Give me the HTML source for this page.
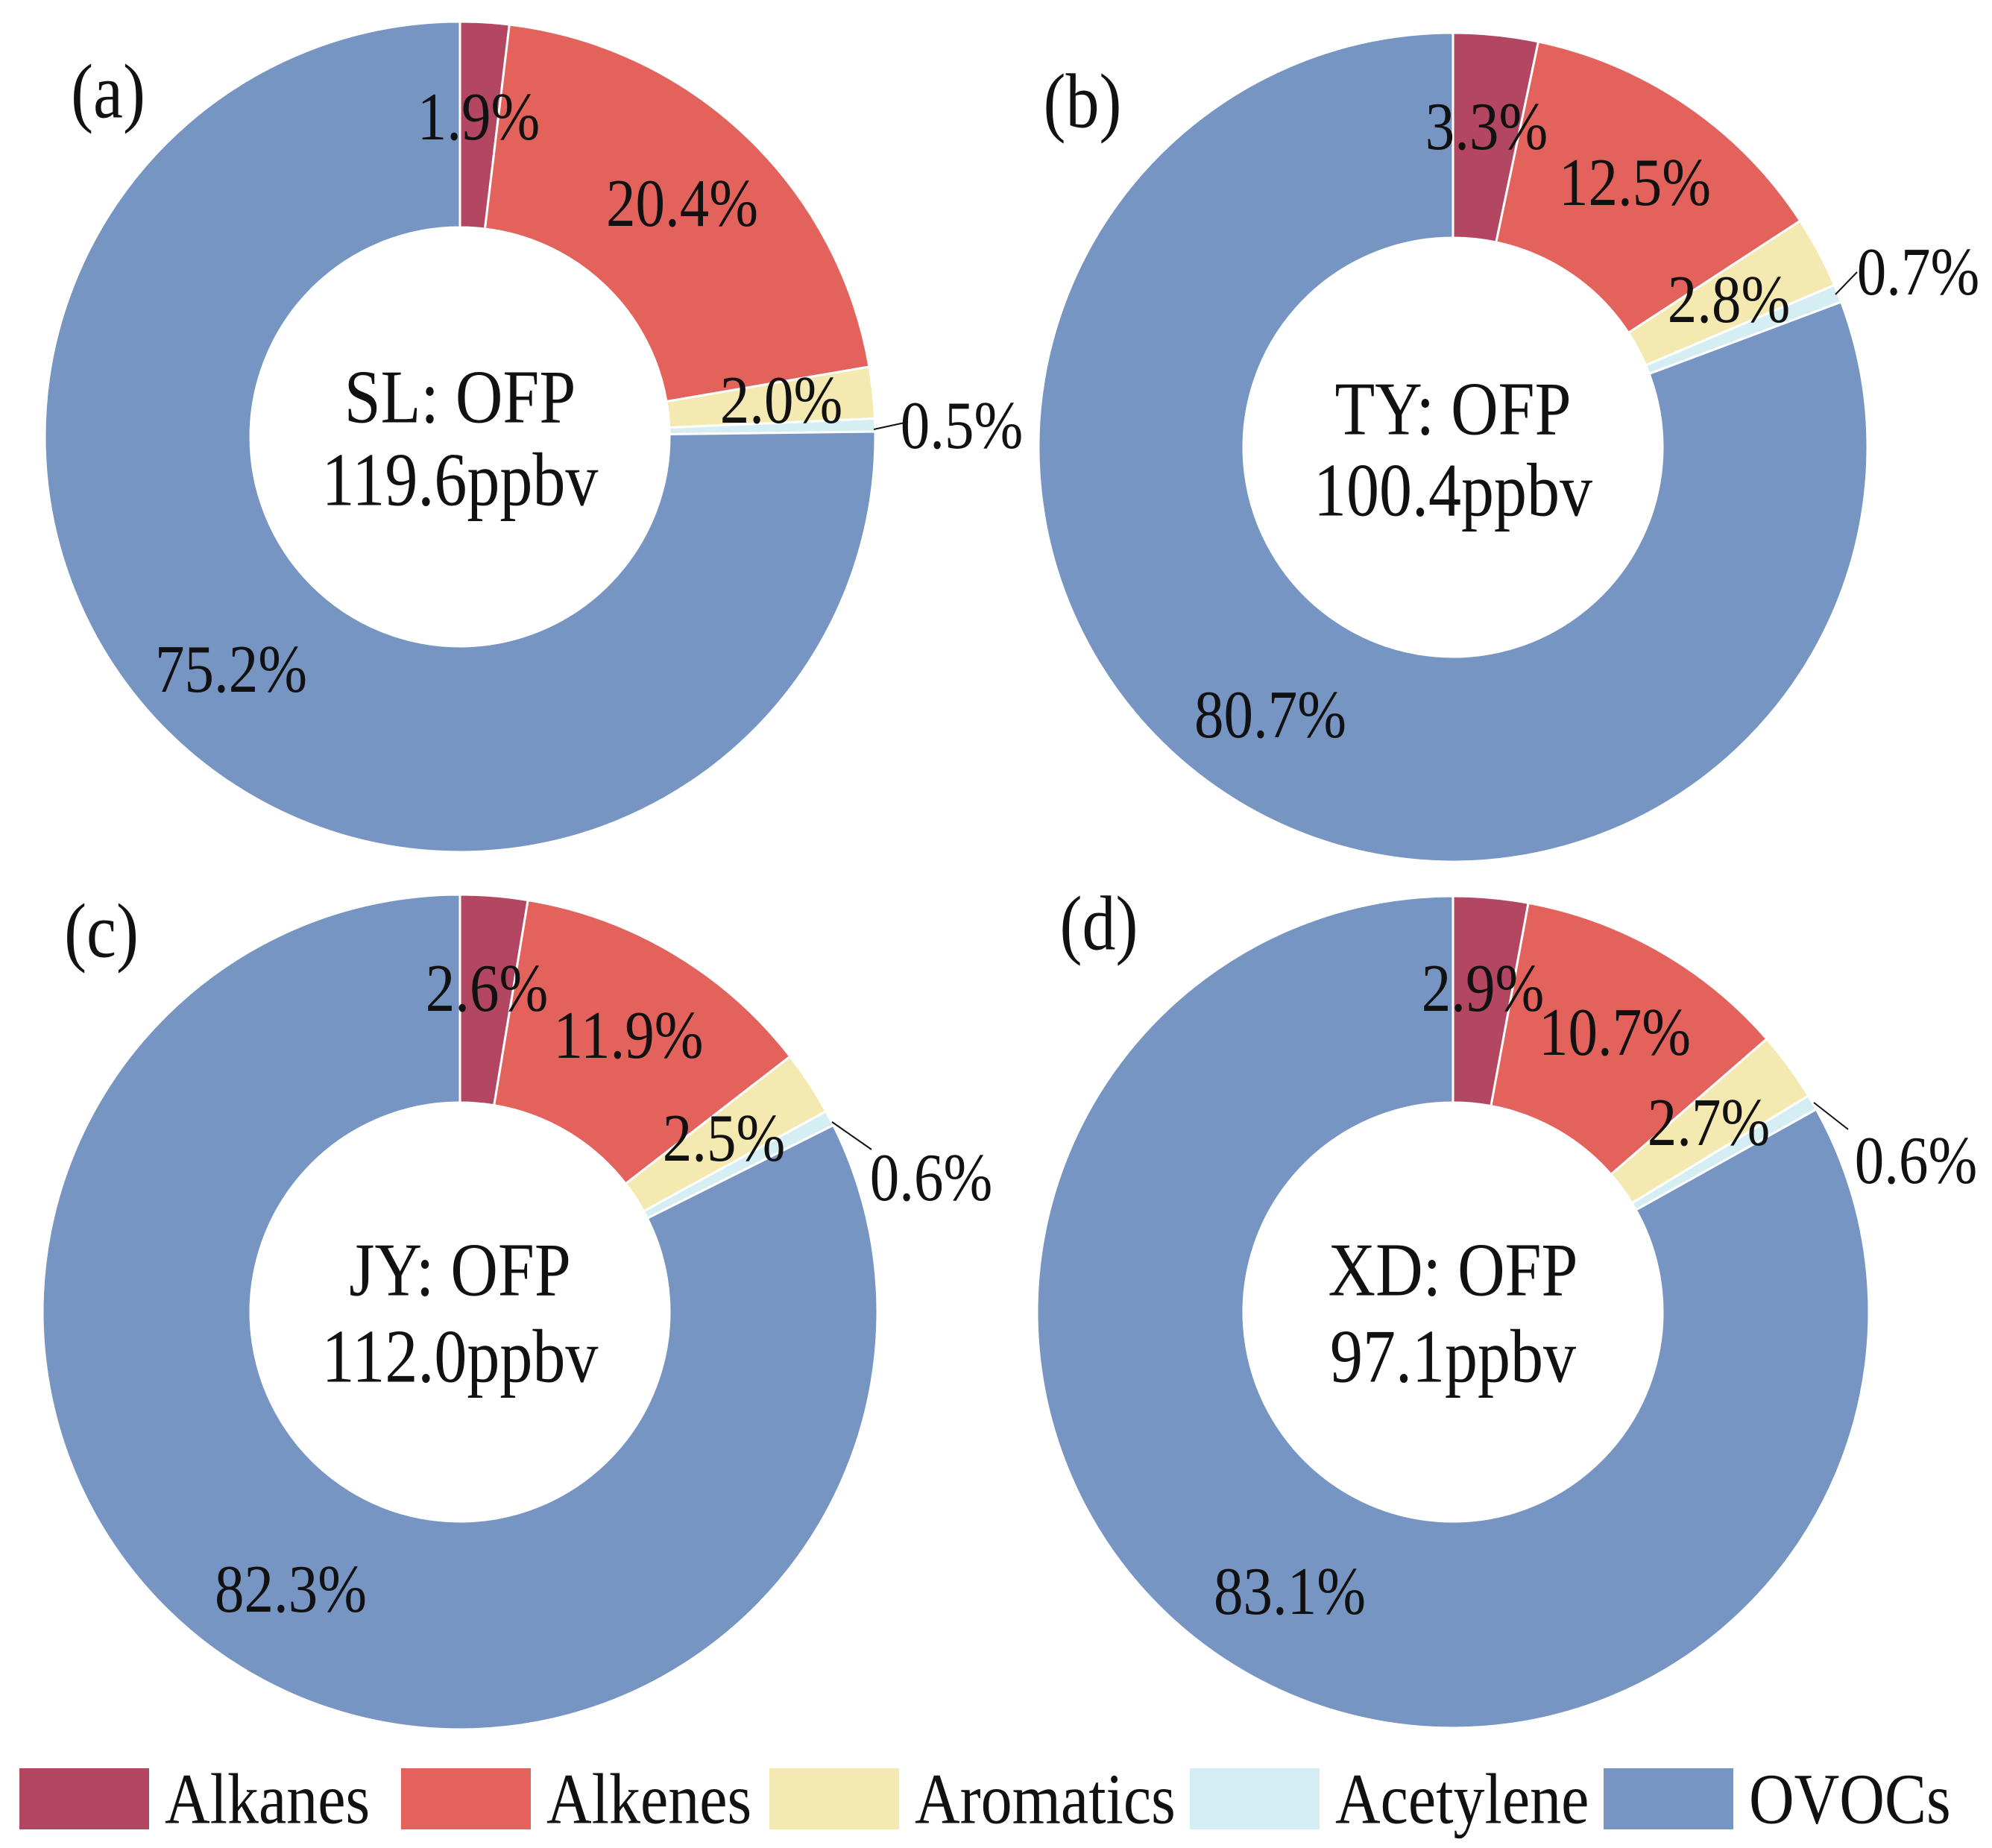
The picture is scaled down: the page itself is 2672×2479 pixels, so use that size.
<!DOCTYPE html>
<html><head><meta charset="utf-8"><style>
html,body{margin:0;padding:0;background:#fff;}
svg{display:block;font-family:"Liberation Serif",serif;}
</style></head><body>
<svg id="chart" width="2672" height="2479" viewBox="0 0 2672 2479" xmlns="http://www.w3.org/2000/svg"></svg>
<script>
const categories = ["Alkanes","Alkenes","Aromatics","Acetylene","OVOCs"];
const colors = ["#b34660","#e3625c","#f4e9b0","#d5eef3","#7795c2"];
const sites = ["SL","TY","JY","XD"];
const totals = ["119.6","100.4","112.0","97.1"];
const panelLetters = ["(a)","(b)","(c)","(d)"];
const valuesSL = [1.9,20.4,2.0,0.5,75.2];
const valuesTY = [3.3,12.5,2.8,0.7,80.7];
const valuesJY = [2.6,11.9,2.5,0.6,82.3];
const valuesXD = [2.9,10.7,2.7,0.6,83.1];
const allValues = [valuesSL,valuesTY,valuesJY,valuesXD];

const NS="http://www.w3.org/2000/svg";
const svg=document.getElementById('chart');
function mk(tag,attrs,parent){const e=document.createElementNS(NS,tag);for(const k in attrs)e.setAttribute(k,attrs[k]);(parent||svg).appendChild(e);return e;}

const panels=[
 {cx:617,cy:586,R:557,letter:[145,123],c1:[617,533],c2:[617,644],
  labels:[[642,157],[915,273],[1048,537],[1290,571],[310,898]],leader:[1172,576,1218,566]},
 {cx:1949,cy:600,R:556,letter:[1452,136],c1:[1949,549],c2:[1949,658],
  labels:[[1994,170],[2193,245],[2319,402],[2573,365],[1704,959]],leader:[2462,395,2491,365]},
 {cx:617,cy:1760,R:560,letter:[136,1249],c1:[617,1704],c2:[617,1820],
  labels:[[653,1326],[843,1389],[971,1527],[1249,1580],[390,2132]],leader:[1116,1505,1169,1542]},
 {cx:1949,cy:1760,R:558,letter:[1474,1239],c1:[1949,1704],c2:[1949,1820],
  labels:[[1989,1326],[2166,1385],[2292,1506],[2570,1557],[1730,2135]],leader:[2433,1479,2479,1515]}
];
const rIn=281;

function txt(x,y,s,size,parent,name,sy){
  const g=mk('g',{transform:`translate(${x},${y}) scale(1,${sy||1.15})`},parent);
  const t=mk('text',{x:0,y:0,'font-size':size,'text-anchor':'middle','dominant-baseline':'central',fill:'#111'},g);
  
  
  t.textContent=s;return t;
}

panels.forEach((p,pi)=>{
  const vals=allValues[pi];
  const g=mk('g',{});
  
  
  const total=vals.reduce((a,b)=>a+b,0);
  let acc=0;
  vals.forEach((v,i)=>{
    const a0=acc/total*2*Math.PI; acc+=v; const a1=acc/total*2*Math.PI;
    const pt=(r,a)=>[p.cx+r*Math.sin(a),p.cy-r*Math.cos(a)];
    const [x0,y0]=pt(p.R,a0),[x1,y1]=pt(p.R,a1),[x2,y2]=pt(rIn,a1),[x3,y3]=pt(rIn,a0);
    const large=(a1-a0)>Math.PI?1:0;
    const path=mk('path',{d:`M${x0},${y0} A${p.R},${p.R} 0 ${large} 1 ${x1},${y1} L${x2},${y2} A${rIn},${rIn} 0 ${large} 0 ${x3},${y3} Z`,fill:colors[i],stroke:'#fff','stroke-width':3},g);
    
    
  });
  const ln=mk('line',{x1:p.leader[0],y1:p.leader[1],x2:p.leader[2],y2:p.leader[3],stroke:'#111','stroke-width':2},g);
  
  
  vals.forEach((v,i)=>{
    txt(p.labels[i][0],p.labels[i][1],v.toFixed(1)+'%',79,g,'label-'+categories[i].toLowerCase());
  });
  txt(p.letter[0],p.letter[1],panelLetters[pi],90,g,'panel-letter');
  txt(p.c1[0],p.c1[1],sites[pi]+': OFP',88,g,'center-title');
  txt(p.c2[0],p.c2[1],totals[pi]+'ppbv',88,g,'center-total');
});

const legendX=[26,538,1032,1596,2151];
const lg=mk('g',{});


categories.forEach((c,i)=>{
  const r=mk('rect',{x:legendX[i],y:2372,width:174,height:82,fill:colors[i]},lg);
  
  
  const g=mk('g',{transform:`translate(${legendX[i]+195},2413) scale(1,1.15)`},lg);
  const t=mk('text',{x:0,y:0,'font-size':84,'dominant-baseline':'central',fill:'#111'},g);
  
  
  t.textContent=c;
});
</script>
</body></html>
